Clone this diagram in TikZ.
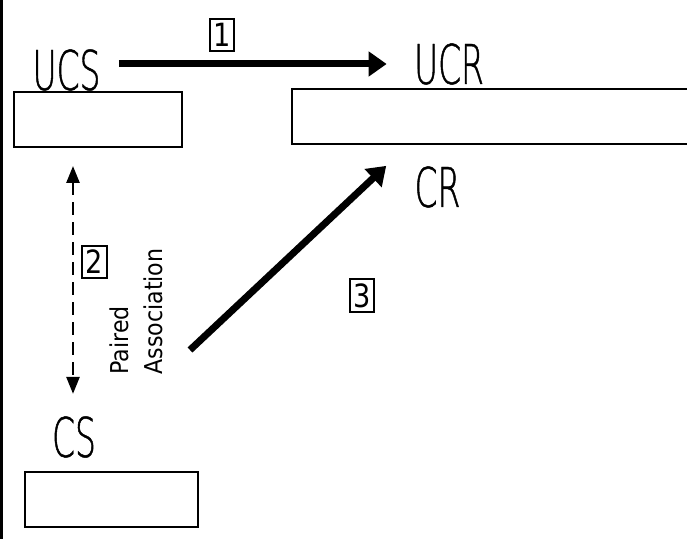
\documentclass[tikz,border=0pt]{standalone}
\usepackage{fontspec}
\usetikzlibrary{arrows.meta}
\newfontfamily\handfont[FakeStretch=0.6,FakeBold=0.8]{DejaVu Sans ExtraLight}
\newfontfamily\smallhand[FakeStretch=0.9]{DejaVu Sans}
\newfontfamily\digitfont[FakeStretch=0.85]{DejaVu Sans}

\begin{document}
\begin{tikzpicture}[x=0.5pt,y=-0.5pt,
	term/.style={inner sep=0pt,font=\handfont\fontsize{27.4}{30}\selectfont},
	termbox/.style={draw,line width=1pt,minimum width=#1,minimum height=27.5pt,inner sep=0pt},
	numbox/.style={draw,solid,line width=1pt,inner xsep=1.8pt,inner ysep=2.2pt,font=\digitfont\fontsize{16}{17}\selectfont},
	bigarrow/.style={-{Triangle[length=9pt,width=12pt]},line width=3.5pt},
	pairarrow/.style={{Triangle[length=8.5pt,width=6.5pt]}-{Triangle[length=8.5pt,width=6.5pt]},line width=1.3pt,dash pattern=on 6.5pt off 3.5pt}]
	\useasboundingbox (0,0) rectangle (687,539);
	\clip (0,0) rectangle (687,539);
	\draw[line width=1.5pt] (1.5,0) -- (1.5,539);

	% stimuli and responses
	\node[term] (ucs) at (66.5,70) {UCS};
	\node[term] (ucr) at (449,64) {UCR};
	\node[term] (cr) at (437.5,187) {CR};
	\node[term] (cs) at (74,437) {CS};
	\node[termbox=84pt] (ucsbox) at (98,119.5) {};
	\node[termbox=214pt] (ucrbox) at (506,117) {};
	\node[termbox=86.5pt] (csbox) at (111.5,499.5) {};

	\draw[bigarrow,shorten <=9pt,shorten >=13.5pt] ([yshift=3pt]ucs.east) -- ([yshift=3pt]ucs.east -| ucr.west)
		node[numbox,pos=0.387,above=6pt] (n1) {1};
	\draw[pairarrow,shorten <=9pt,shorten >=11pt] ([xshift=-0.5pt]cs.north |- ucsbox.south) -- ([xshift=-0.5pt]cs.north)
		node[numbox,pos=0.426,right=4pt] (n2) {2};
	\node[rotate=90,anchor=west,align=left,inner sep=0pt,font=\smallhand\fontsize{12.3}{17}\selectfont] (pair) at (136,375) {Paired\\Association};

	\coordinate (pastart) at (190,350);
	\draw[bigarrow] (pastart) -- ([xshift=-14pt]cr.north west);
	\node[numbox] (n3) at (362,296) {3};
\end{tikzpicture}
\end{document}
